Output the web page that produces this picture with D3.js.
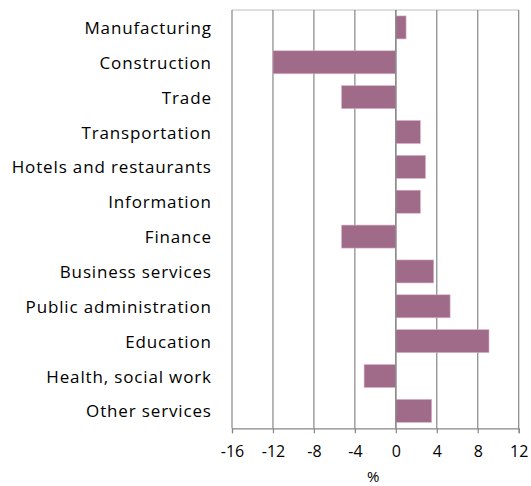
<!DOCTYPE html>
<html>
<head>
<meta charset="utf-8">
<script src="https://cdn.jsdelivr.net/npm/d3@7"></script>
<style>
  html, body { margin: 0; padding: 0; background: #fff; }
  svg text { font-family: "Open Sans", sans-serif; fill: #000; }
</style>
</head>
<body>
<svg id="chart" width="531" height="486"></svg>
<script>
// Employment change by sector, percent
const sectors = [
  "Manufacturing", "Construction", "Trade", "Transportation",
  "Hotels and restaurants", "Information", "Finance", "Business services",
  "Public administration", "Education", "Health, social work", "Other services"
];
const changes = [1.0, -12.0, -5.3, 2.4, 2.9, 2.4, -5.3, 3.7, 5.3, 9.1, -3.1, 3.5];
const xTicks = [-16, -12, -8, -4, 0, 4, 8, 12];
const axisTitle = "%";

const svg = d3.select("#chart");
const plot = { left: 232, right: 518.7, top: 10, bottom: 428.3 };

const x = d3.scaleLinear().domain([-16, 12]).range([plot.left, plot.right]);
const y = d3.scaleBand().domain(sectors).range([plot.top, plot.bottom]).paddingInner(0.34).paddingOuter(0.17);

// plot area frame (top edge)
svg.append("line")
  .attr("x1", plot.left).attr("x2", plot.right)
  .attr("y1", plot.top).attr("y2", plot.top)
  .attr("stroke", "#bfbfbf").attr("stroke-width", 1);

// vertical gridlines
svg.append("g").selectAll("line").data(xTicks).join("line")
  .attr("x1", d => x(d)).attr("x2", d => x(d))
  .attr("y1", plot.top).attr("y2", plot.bottom)
  .attr("stroke", "#868686").attr("stroke-width", 1.2);

// bars
svg.append("g").selectAll("rect").data(changes).join("rect")
  .attr("x", d => x(Math.min(0, d)))
  .attr("width", d => Math.abs(x(d) - x(0)))
  .attr("y", (d, i) => y(sectors[i]))
  .attr("height", y.bandwidth())
  .attr("fill", "#a06a89")
  .attr("stroke", "#d9b3c6").attr("stroke-width", 0.6);

// category axis line at zero
svg.append("line")
  .attr("x1", x(0)).attr("x2", x(0))
  .attr("y1", plot.top).attr("y2", plot.bottom)
  .attr("stroke", "#868686").attr("stroke-width", 1.2);

// category labels
svg.append("g").selectAll("text").data(sectors).join("text")
  .attr("x", 211.8)
  .attr("y", d => y(d) + y.bandwidth() / 2)
  .attr("text-anchor", "end")
  .attr("dominant-baseline", "central")
  .attr("font-size", 17)
  .attr("letter-spacing", 0.85)
  .text(d => d);

// value axis
const xAxis = d3.axisBottom(x).tickValues(xTicks).tickSize(5).tickPadding(12.5).tickFormat(d3.format("d"));
const gx = svg.append("g").attr("transform", `translate(0,${plot.bottom})`).call(xAxis);
gx.select(".domain").attr("stroke", "#868686").attr("stroke-width", 1.2);
gx.selectAll(".tick line").attr("stroke", "#868686").attr("stroke-width", 1.2);
gx.selectAll(".tick text").attr("font-size", 16).attr("fill", "#000")
  .style("font-family", "'Open Sans', sans-serif")
  .text(d => d < 0 ? "-" + Math.abs(d) : d);

// axis title
svg.append("text")
  .attr("x", 373.3)
  .attr("y", 475.5)
  .attr("text-anchor", "middle")
  .attr("dominant-baseline", "central")
  .attr("font-size", 15)
  .text(axisTitle);
</script>
</body>
</html>
